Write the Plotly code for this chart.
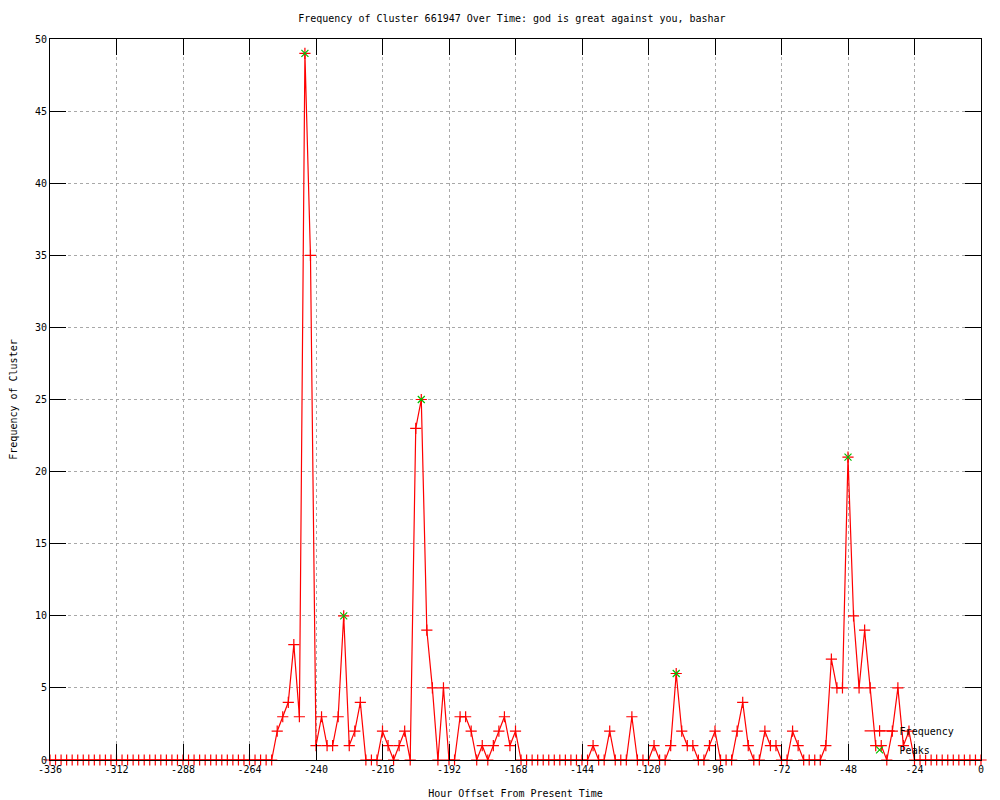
import plotly.graph_objects as go

# Hour offsets (every 2 hours from -336 to 0)
hours = list(range(-336, 1, 2))

# Frequency values, 12 per day starting at -336
freq = [
    0, 0, 0, 0, 0, 0, 0, 0, 0, 0, 0, 0,        # -336 .. -314
    0, 0, 0, 0, 0, 0, 0, 0, 0, 0, 0, 0,        # -312 .. -290
    0, 0, 0, 0, 0, 0, 0, 0, 0, 0, 0, 0,        # -288 .. -266
    0, 0, 0, 0, 0, 2, 3, 4, 8, 3, 49, 35,      # -264 .. -242
    1, 3, 1, 1, 3, 10, 1, 2, 4, 0, 0, 0,       # -240 .. -218
    2, 1, 0, 1, 2, 0, 23, 25, 9, 5, 0, 5,      # -216 .. -194
    0, 0, 3, 3, 2, 0, 1, 0, 1, 2, 3, 1,        # -192 .. -170
    2, 0, 0, 0, 0, 0, 0, 0, 0, 0, 0, 0,        # -168 .. -146
    0, 0, 1, 0, 0, 2, 0, 0, 0, 3, 0, 0,        # -144 .. -122
    0, 1, 0, 0, 1, 6, 2, 1, 1, 0, 0, 1,        # -120 .. -98
    2, 0, 0, 0, 2, 4, 1, 0, 0, 2, 1, 1,        # -96 .. -74
    0, 0, 2, 1, 0, 0, 0, 0, 1, 7, 5, 5,        # -72 .. -50
    21, 10, 5, 9, 5, 1, 1, 0, 2, 5, 1, 2,      # -48 .. -26
    0, 0, 0, 0, 0, 0, 0, 0, 0, 0, 0, 0,        # -24 .. -2
    0,                                          # 0
]

peak_hours = [-244, -230, -202, -110, -48]
peak_vals = [49, 10, 25, 6, 21]

x_ticks = list(range(-336, 1, 24))
y_ticks = list(range(0, 51, 5))

FONT = "DejaVu Sans Mono"

fig = go.Figure()
fig.add_trace(go.Scatter(
    x=hours, y=freq, mode="lines+markers", name="Frequency",
    line=dict(color="#ff0000", width=1.2),
    marker=dict(symbol="cross-thin", size=8, line=dict(color="#ff0000", width=1.2), color="#ff0000"),
    cliponaxis=False,
))
fig.add_trace(go.Scatter(
    x=peak_hours, y=peak_vals, mode="markers", name="Peaks",
    marker=dict(symbol="x-thin", size=7, line=dict(color="#00c000", width=1.2), color="#00c000"),
    cliponaxis=False,
))

axis_common = dict(
    showgrid=True, gridcolor="#a8a8a8", griddash="dot", gridwidth=1,
    showline=True, linecolor="black", linewidth=1, mirror="ticks",
    ticks="inside", ticklen=16, tickwidth=1, tickcolor="black",
    zeroline=False, tickfont=dict(family=FONT, size=10, color="black"),
    automargin=False,
)

fig.update_xaxes(
    range=[-336, 0], tickvals=x_ticks, ticktext=[str(t) for t in x_ticks],
    title=dict(text="Hour Offset From Present Time", font=dict(family=FONT, size=10, color="black"), standoff=15),
    **axis_common,
)
fig.update_yaxes(
    range=[0, 50], tickvals=y_ticks,
    title=dict(text="Frequency of Cluster", font=dict(family=FONT, size=10, color="black"), standoff=22),
    **axis_common,
)

fig.update_layout(
    width=992, height=792,
    margin=dict(l=42, r=19, t=31, b=40),
    paper_bgcolor="white", plot_bgcolor="white",
    title=dict(text="Frequency of Cluster 661947 Over Time: god is great against you, bashar",
               font=dict(family=FONT, size=10, color="black"),
               x=0.508, xanchor="center", y=0.987, yanchor="middle"),
    legend=dict(x=0.977, y=-0.006, xanchor="right", yanchor="bottom",
                bgcolor="rgba(0,0,0,0)", font=dict(family=FONT, size=10, color="black"),
                tracegroupgap=0, itemwidth=30),
    showlegend=True,
)

fig.write_html("out.html")
